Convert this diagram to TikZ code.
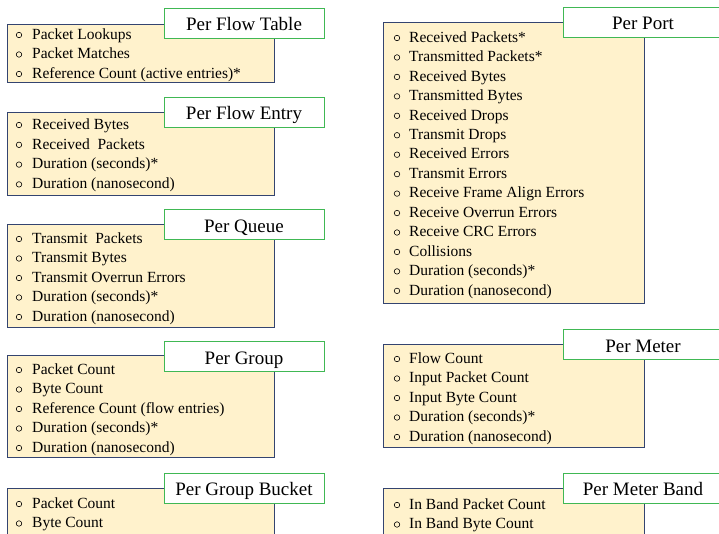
\documentclass[tikz,border=0pt]{standalone}
\usepackage{fontspec}
\setmainfont{Liberation Serif}

\definecolor{panelfill}{RGB}{255,242,204}
\definecolor{panelline}{RGB}{52,68,112}
\definecolor{headline}{RGB}{64,184,84}

\tikzset{
    panel/.style={draw=panelline, fill=panelfill, line width=1pt},
    headbox/.style={draw=headline, fill=white, line width=1pt, inner sep=0pt,
        minimum width=160pt, minimum height=30pt, text height=18pt, text depth=3pt,
        font=\fontsize{19}{19}\selectfont},
    itemtext/.style={anchor=west, inner sep=0pt, text height=11pt, text depth=3pt,
        yshift=-1.2pt, font=\fontsize{15.5}{16}\selectfont},
    bulletmark/.style={draw=black, line width=0.6pt, circle, inner sep=0pt,
        minimum size=5.5pt, yshift=-1pt},
}

\begin{document}
\begin{tikzpicture}[x=1pt, y=-1pt]
    \clip (0,0) rectangle (719,533);

    % Per Flow Table
    \draw[panel] (7,24) rectangle (274,82);
    \foreach \i/\val in {
        0/Packet Lookups,
        1/Packet Matches,
        2/Reference Count (active entries)*
        } {
        \node[bulletmark] (ftb-\i) at (19, 34+19.5*\i) {};
        \node[itemtext] (ft-\i) at (32, 34+19.5*\i) {\val};
    }
    \node[headbox] (ft) at (244,23) {Per Flow Table};

    % Per Flow Entry
    \draw[panel] (7,112) rectangle (274,195);
    \foreach \i/\val in {
        0/Received Bytes,
        1/Received~ Packets,
        2/Duration (seconds)*,
        3/Duration (nanosecond)
        } {
        \node[bulletmark] (feb-\i) at (19, 124+19.8*\i) {};
        \node[itemtext] (fe-\i) at (32, 124+19.8*\i) {\val};
    }
    \node[headbox] (fe) at (244,112) {Per Flow Entry};

    % Per Queue
    \draw[panel] (7,224) rectangle (274,327);
    \foreach \i/\val in {
        0/Transmit~ Packets,
        1/Transmit Bytes,
        2/Transmit Overrun Errors,
        3/Duration (seconds)*,
        4/Duration (nanosecond)
        } {
        \node[bulletmark] (qb-\i) at (19, 238+19.5*\i) {};
        \node[itemtext] (q-\i) at (32, 238+19.5*\i) {\val};
    }
    \node[headbox] (q) at (244,224.5) {Per Queue};

    % Per Group
    \draw[panel] (7,355) rectangle (274,457);
    \foreach \i/\val in {
        0/Packet Count,
        1/Byte Count,
        2/Reference Count (flow entries),
        3/Duration (seconds)*,
        4/Duration (nanosecond)
        } {
        \node[bulletmark] (gb-\i) at (19, 369+19.5*\i) {};
        \node[itemtext] (g-\i) at (32, 369+19.5*\i) {\val};
    }
    \node[headbox] (g) at (244,356.5) {Per Group};

    % Per Group Bucket
    \draw[panel] (7,488) rectangle (274,545);
    \foreach \i/\val in {
        0/Packet Count,
        1/Byte Count
        } {
        \node[bulletmark] (bkb-\i) at (19, 503+19.5*\i) {};
        \node[itemtext] (bk-\i) at (32, 503+19.5*\i) {\val};
    }
    \node[headbox] (bk) at (244,488) {Per Group Bucket};

    % Per Port
    \draw[panel] (383,22) rectangle (644,303);
    \foreach \i/\val in {
        0/Received Packets*,
        1/Transmitted Packets*,
        2/Received Bytes,
        3/Transmitted Bytes,
        4/Received Drops,
        5/Transmit Drops,
        6/Received Errors,
        7/Transmit Errors,
        8/Receive Frame Align Errors,
        9/Receive Overrun Errors,
        10/Receive CRC Errors,
        11/Collisions,
        12/Duration (seconds)*,
        13/Duration (nanosecond)
        } {
        \node[bulletmark] (pb-\i) at (397, 37+19.45*\i) {};
        \node[itemtext] (p-\i) at (409, 37+19.45*\i) {\val};
    }
    \node[headbox] (p) at (643,22) {Per Port};

    % Per Meter
    \draw[panel] (383,344) rectangle (644,447);
    \foreach \i/\val in {
        0/Flow Count,
        1/Input Packet Count,
        2/Input Byte Count,
        3/Duration (seconds)*,
        4/Duration (nanosecond)
        } {
        \node[bulletmark] (mb-\i) at (397, 358+19.5*\i) {};
        \node[itemtext] (m-\i) at (409, 358+19.5*\i) {\val};
    }
    \node[headbox] (m) at (643,344.5) {Per Meter};

    % Per Meter Band
    \draw[panel] (383,488) rectangle (644,545);
    \foreach \i/\val in {
        0/In Band Packet Count,
        1/In Band Byte Count
        } {
        \node[bulletmark] (mbb-\i) at (397, 504+19.5*\i) {};
        \node[itemtext] (mbd-\i) at (409, 504+19.5*\i) {\val};
    }
    \node[headbox] (mbd) at (643,488) {Per Meter Band};
\end{tikzpicture}
\end{document}
